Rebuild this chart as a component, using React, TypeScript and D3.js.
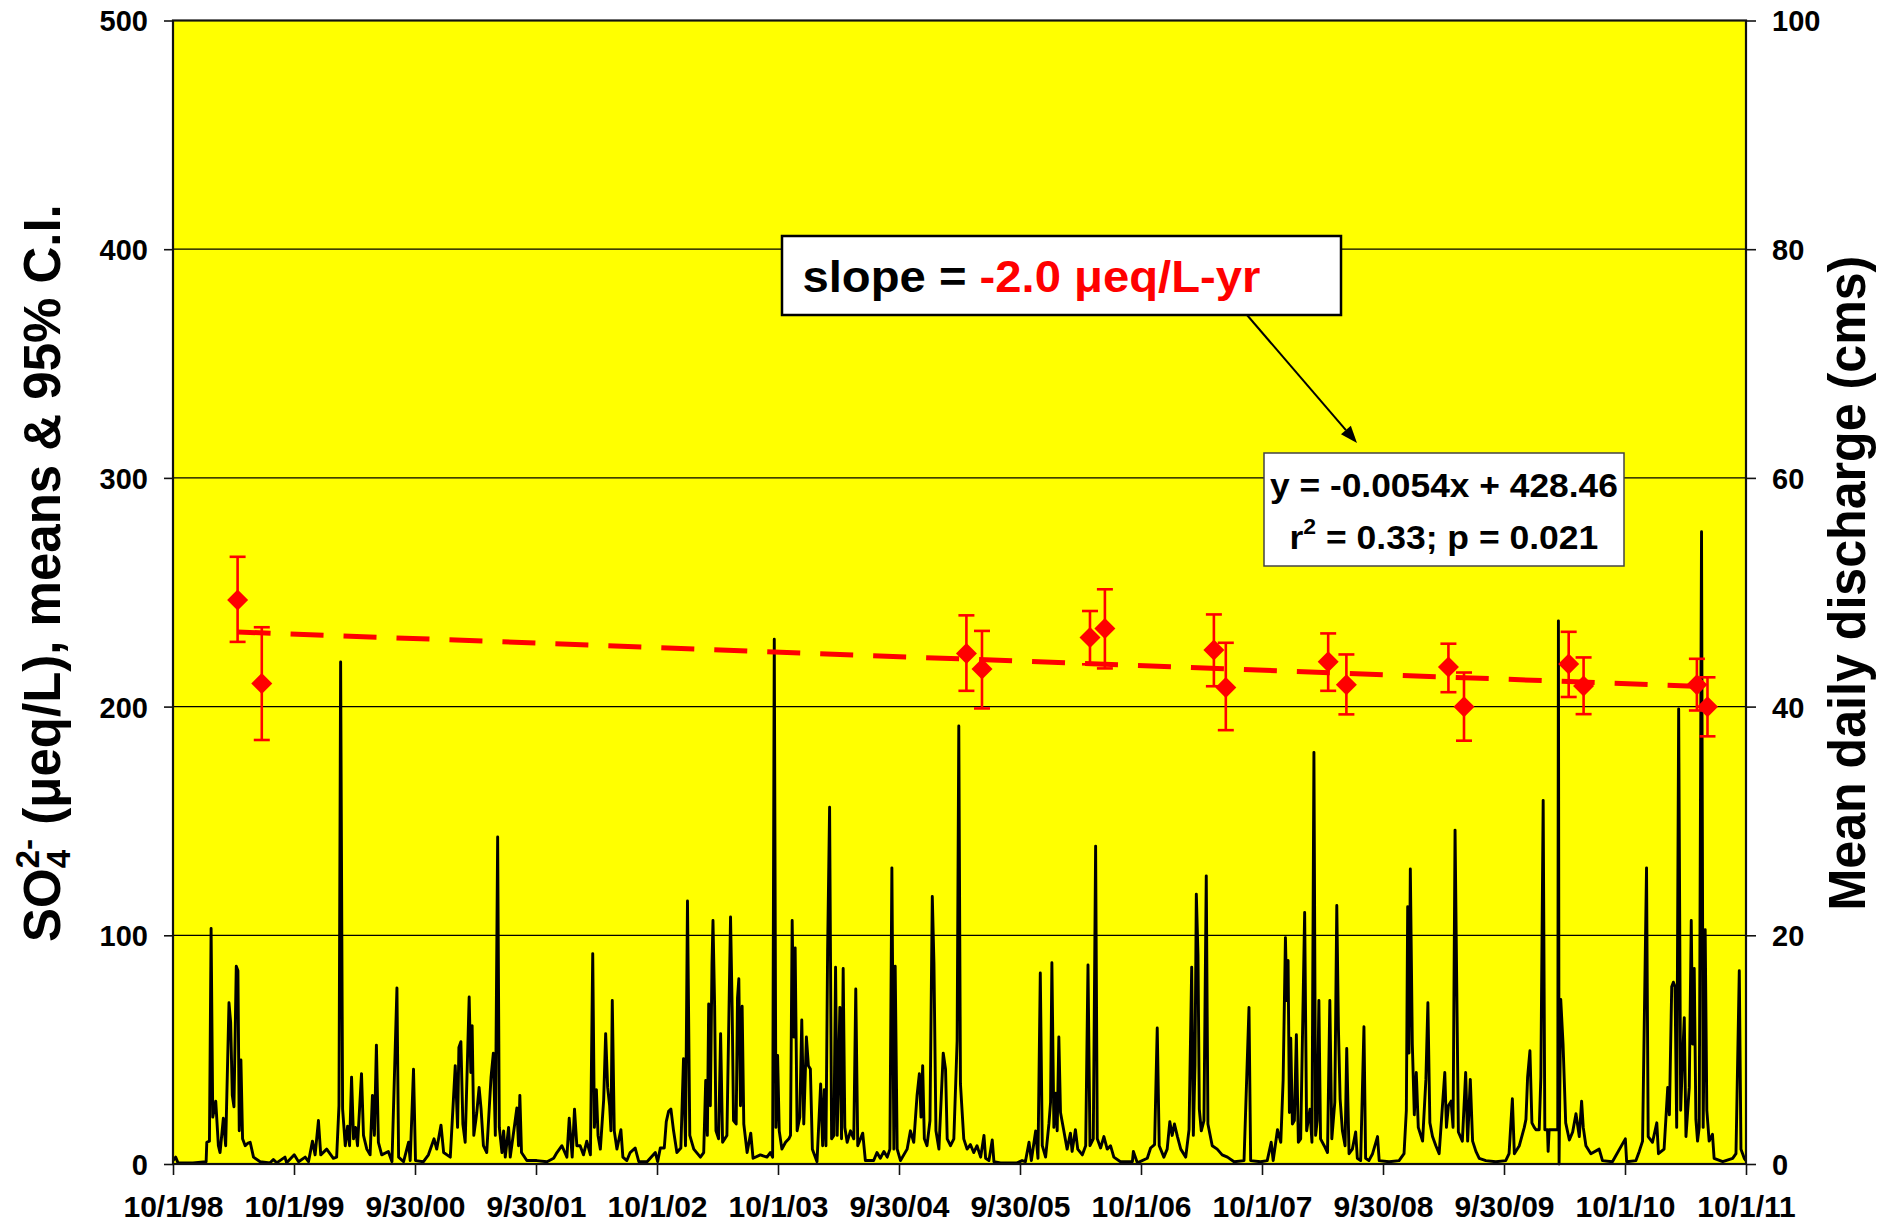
import React, { useEffect, useRef } from "react";
import * as d3 from "d3";

const WIDTH = 1881;
const HEIGHT = 1226;

// X axis: Excel date axis starting 10/1/98, major unit 365.25 days
const xTickLabels = [
  "10/1/98", "10/1/99", "9/30/00", "9/30/01", "10/1/02", "10/1/03", "9/30/04",
  "9/30/05", "10/1/06", "10/1/07", "9/30/08", "9/30/09", "10/1/10", "10/1/11",
];
const leftTicks = [0, 100, 200, 300, 400, 500];
const rightTicks = [0, 20, 40, 60, 80, 100];

// SO4 sample means & 95% C.I. (days since 10/1/98)
const sampleDay = [195, 268, 2395, 2442, 2768, 2813, 3142, 3178, 3487, 3542, 3850, 3897, 4213, 4258, 4600, 4632];
const sampleMean = [246.6, 210.1, 223.2, 216.4, 230.2, 234.2, 224.8, 208.4, 219.6, 209.6, 217.3, 199.9, 218.6, 209.0, 209.5, 199.9];
const sampleLow = [228.3, 185.4, 206.9, 199.2, 218.5, 216.7, 208.9, 189.7, 206.9, 196.6, 206.3, 185.1, 204.2, 196.7, 198.3, 187.0];
const sampleHigh = [265.5, 234.7, 239.9, 233.1, 241.8, 251.3, 240.3, 227.9, 232.0, 222.8, 227.5, 214.9, 232.7, 221.5, 220.9, 212.8];

// Regression: y = -0.0054x + 428.46 (x = Excel date serial)
const trendSlope = -0.0054;
const trendIntercept = 428.46;
const excelSerialStart = 36069; // 10/1/98

// Mean daily discharge (cms): [days since 10/1/98, cms]
const discharge: [number, number][] = [
  [0, 0.3], [8, 0.6], [15, 0.1], [60, 0.1], [100, 0.2], [102, 1.9], [110, 2.0], [115, 20.6], [120, 4.1], [129, 5.5],
  [137, 1.6], [142, 1.0], [152, 4.0], [159, 1.6], [169, 14.1], [174, 12.4], [179, 6.0], [184, 5.0], [191, 17.3], [196, 16.9],
  [200, 2.9], [205, 9.1], [210, 2.2], [218, 1.6], [225, 1.8], [233, 1.9], [243, 0.6], [263, 0.2], [293, 0.1], [303, 0.4],
  [313, 0.1], [338, 0.6], [343, 0.1], [366, 0.8], [379, 0.2], [399, 0.6], [409, 0.2], [421, 2.0], [429, 0.8], [439, 3.8],
  [446, 0.8], [464, 1.3], [484, 0.5], [494, 0.6], [501, 5.1], [506, 43.9], [512, 4.8], [520, 1.6], [527, 3.3], [533, 1.6],
  [539, 7.6], [545, 2.2], [551, 3.2], [557, 1.6], [569, 7.9], [575, 2.5], [585, 1.3], [595, 0.8], [602, 6.0], [608, 2.5],
  [614, 10.4], [620, 1.9], [630, 0.8], [650, 1.1], [661, 0.2], [676, 15.4], [681, 0.6], [696, 0.2], [711, 1.9], [716, 0.3],
  [726, 8.3], [732, 0.3], [756, 0.2], [771, 0.8], [788, 2.2], [796, 1.3], [809, 3.4], [817, 1.0], [837, 0.6], [852, 8.6],
  [859, 3.2], [863, 10.2], [869, 10.7], [875, 3.5], [882, 1.9], [894, 14.6], [899, 8.0], [903, 12.1], [908, 2.5], [914, 3.8],
  [917, 4.5], [924, 6.7], [930, 4.8], [937, 1.6], [947, 1.0], [960, 7.6], [967, 9.7], [973, 2.5], [980, 28.6], [985, 3.2],
  [993, 1.0], [998, 2.9], [1003, 0.6], [1013, 3.2], [1018, 0.6], [1038, 4.9], [1043, 1.6], [1047, 6.0], [1052, 1.0], [1068, 0.3],
  [1098, 0.3], [1129, 0.2], [1149, 0.5], [1159, 1.0], [1174, 1.6], [1189, 0.6], [1196, 4.0], [1205, 0.6], [1212, 4.8], [1219, 1.6],
  [1229, 1.6], [1239, 0.8], [1249, 2.0], [1260, 0.8], [1267, 18.4], [1272, 3.2], [1278, 6.5], [1283, 2.5], [1290, 1.3], [1300, 5.6],
  [1306, 11.4], [1312, 6.7], [1318, 5.1], [1322, 2.9], [1326, 14.3], [1332, 2.9], [1340, 1.3], [1352, 3.0], [1358, 0.6], [1370, 0.3],
  [1380, 1.0], [1395, 1.4], [1406, 0.2], [1431, 0.2], [1456, 1.0], [1463, 0.2], [1471, 1.4], [1483, 1.4], [1489, 3.7], [1496, 4.6],
  [1503, 4.8], [1511, 2.9], [1521, 1.0], [1533, 1.4], [1541, 9.2], [1547, 1.6], [1553, 23.0], [1560, 2.5], [1572, 1.3], [1592, 0.6],
  [1602, 1.0], [1608, 7.3], [1613, 2.5], [1617, 14.0], [1622, 5.1], [1627, 17.5], [1630, 21.3], [1635, 13.7], [1639, 2.9], [1647, 2.2],
  [1653, 11.4], [1659, 1.9], [1672, 2.5], [1683, 21.6], [1688, 13.4], [1692, 3.8], [1700, 3.5], [1704, 14.5], [1708, 16.2], [1713, 5.1],
  [1718, 13.8], [1723, 3.5], [1733, 1.0], [1744, 2.7], [1751, 0.5], [1773, 0.8], [1793, 0.6], [1803, 1.0], [1810, 0.6], [1815, 45.9],
  [1820, 3.2], [1825, 9.5], [1830, 2.9], [1838, 1.3], [1849, 1.9], [1859, 2.2], [1864, 2.5], [1869, 21.3], [1874, 11.1], [1878, 18.9],
  [1884, 2.9], [1892, 4.1], [1898, 12.6], [1904, 3.5], [1912, 11.1], [1918, 8.6], [1924, 8.3], [1930, 1.3], [1944, 0.2], [1955, 7.0],
  [1961, 1.6], [1966, 6.5], [1971, 1.6], [1976, 18.6], [1982, 31.2], [1988, 2.2], [1995, 2.5], [2000, 17.2], [2005, 2.5], [2013, 13.7],
  [2018, 2.2], [2023, 17.1], [2028, 3.2], [2035, 1.9], [2045, 2.9], [2055, 2.2], [2061, 15.3], [2067, 1.6], [2082, 2.7], [2090, 0.3],
  [2115, 0.3], [2125, 1.0], [2135, 0.5], [2146, 1.1], [2156, 0.6], [2164, 1.3], [2170, 25.9], [2176, 1.3], [2180, 17.3], [2186, 1.3],
  [2196, 0.3], [2216, 1.3], [2226, 2.9], [2236, 1.9], [2246, 6.0], [2253, 7.9], [2258, 4.1], [2263, 8.6], [2268, 2.2], [2276, 1.6],
  [2285, 3.8], [2292, 23.4], [2297, 17.5], [2303, 2.9], [2312, 1.3], [2325, 9.7], [2332, 8.3], [2337, 2.2], [2347, 1.6], [2357, 2.2],
  [2367, 10.8], [2372, 38.3], [2377, 7.0], [2387, 2.2], [2397, 1.3], [2407, 1.7], [2417, 1.0], [2427, 1.6], [2438, 0.6], [2448, 2.5],
  [2453, 0.5], [2463, 0.3], [2473, 2.1], [2478, 0.2], [2498, 0.1], [2548, 0.1], [2563, 0.3], [2573, 0.2], [2584, 1.9], [2591, 0.3],
  [2604, 2.9], [2611, 0.5], [2618, 16.7], [2624, 1.6], [2634, 0.6], [2644, 3.5], [2649, 5.4], [2653, 17.6], [2659, 3.2], [2665, 6.2],
  [2669, 2.9], [2674, 11.1], [2679, 4.5], [2689, 2.9], [2699, 1.3], [2709, 2.7], [2714, 1.1], [2724, 3.0], [2731, 1.3], [2745, 0.8],
  [2755, 1.6], [2762, 17.4], [2768, 1.6], [2778, 2.2], [2785, 27.8], [2790, 2.2], [2800, 1.4], [2810, 2.4], [2820, 1.3], [2830, 1.6],
  [2840, 0.6], [2860, 0.2], [2896, 0.2], [2899, 1.1], [2911, 0.1], [2941, 0.5], [2951, 1.4], [2963, 1.7], [2971, 11.9], [2977, 1.6],
  [2991, 0.6], [3001, 1.3], [3009, 3.7], [3016, 2.5], [3023, 3.5], [3032, 2.4], [3042, 1.3], [3057, 0.6], [3067, 3.0], [3075, 17.2],
  [3080, 2.5], [3085, 8.7], [3089, 23.6], [3094, 18.3], [3098, 4.8], [3104, 2.9], [3112, 3.8], [3119, 25.2], [3124, 3.5], [3137, 1.6],
  [3152, 1.3], [3167, 0.8], [3183, 0.6], [3203, 0.2], [3233, 0.3], [3248, 13.7], [3253, 0.3], [3283, 0.2], [3303, 0.3], [3315, 1.9],
  [3321, 0.3], [3334, 3.0], [3344, 1.9], [3351, 7.3], [3358, 19.8], [3362, 14.3], [3366, 17.8], [3370, 4.5], [3374, 11.0], [3379, 3.5],
  [3385, 3.8], [3391, 11.3], [3397, 1.9], [3404, 2.2], [3416, 22.0], [3422, 2.9], [3432, 4.8], [3438, 1.9], [3444, 36.0], [3449, 2.5],
  [3454, 3.8], [3459, 14.3], [3464, 2.2], [3475, 1.6], [3485, 1.0], [3492, 14.3], [3498, 2.2], [3507, 5.4], [3513, 22.6], [3518, 11.8],
  [3523, 5.7], [3530, 2.9], [3538, 1.6], [3543, 10.1], [3550, 0.9], [3560, 1.3], [3570, 2.8], [3575, 0.5], [3585, 0.3], [3595, 12.0],
  [3600, 0.5], [3610, 0.3], [3621, 0.9], [3636, 2.4], [3641, 0.3], [3671, 0.2], [3701, 0.3], [3716, 0.9], [3723, 4.7], [3727, 22.5],
  [3731, 9.7], [3735, 25.8], [3741, 10.5], [3747, 4.3], [3753, 8.0], [3759, 3.2], [3772, 2.0], [3782, 7.4], [3788, 14.1], [3794, 3.6],
  [3802, 2.4], [3812, 1.6], [3822, 0.9], [3832, 5.1], [3839, 8.0], [3844, 3.2], [3850, 5.1], [3858, 5.5], [3864, 3.2], [3870, 29.2],
  [3875, 15.9], [3880, 2.8], [3892, 2.0], [3902, 8.0], [3908, 2.0], [3916, 7.4], [3923, 2.0], [3933, 1.1], [3943, 0.5], [3963, 0.3],
  [3993, 0.2], [4023, 0.3], [4033, 0.9], [4043, 5.7], [4049, 0.9], [4064, 1.6], [4079, 3.2], [4084, 3.9], [4089, 7.6], [4096, 9.9],
  [4102, 3.6], [4109, 3.2], [4114, 3.0], [4124, 3.0], [4129, 7.6], [4136, 31.8], [4141, 3.0], [4149, 3.0], [4151, 1.1], [4154, 3.0],
  [4174, 3.0], [4180, 3.0], [4182, 47.5], [4184, 0.0], [4189, 14.4], [4196, 10.5], [4204, 3.6], [4215, 2.1], [4225, 2.8], [4235, 4.4],
  [4245, 2.4], [4252, 5.5], [4257, 3.2], [4265, 1.6], [4280, 0.9], [4305, 1.3], [4315, 0.3], [4345, 0.2], [4384, 2.2], [4388, 0.2],
  [4416, 0.3], [4426, 1.1], [4436, 2.0], [4448, 25.9], [4453, 2.4], [4466, 1.9], [4479, 3.6], [4484, 0.9], [4501, 1.3], [4512, 6.7],
  [4517, 4.3], [4524, 15.5], [4529, 15.9], [4534, 15.5], [4539, 3.2], [4545, 39.8], [4551, 4.7], [4557, 9.4], [4562, 12.8], [4567, 2.4],
  [4577, 6.7], [4583, 21.3], [4587, 10.5], [4592, 17.1], [4597, 3.9], [4602, 2.0], [4607, 3.2], [4614, 55.3], [4619, 3.2], [4625, 20.5],
  [4630, 4.7], [4637, 2.0], [4647, 2.6], [4652, 0.5], [4678, 0.2], [4708, 0.5], [4718, 0.9], [4728, 16.9], [4733, 1.3], [4743, 0.5],
  [4748, 0.3],
];

const FONT = "'Liberation Sans', Arial, Helvetica, sans-serif";

export default function App() {
  const ref = useRef<SVGSVGElement | null>(null);

  useEffect(() => {
    const svg = d3.select(ref.current);
    svg.selectAll("*").remove();

    const L = 173, R = 1746, T = 20.5, B = 1164;
    const x = d3.scaleLinear().domain([0, 13 * 365.25]).range([L, R]);
    const yL = d3.scaleLinear().domain([0, 500]).range([B, T]);
    const yR = d3.scaleLinear().domain([0, 100]).range([B, T]);

    svg.append("rect").attr("width", WIDTH).attr("height", HEIGHT).attr("fill", "#fff");
    svg.append("rect").attr("x", L).attr("y", T).attr("width", R - L).attr("height", B - T).attr("fill", "#ffff00");

    // gridlines
    svg.append("g").selectAll("line").data(leftTicks.filter((t) => t > 0 && t < 500)).join("line")
      .attr("x1", L).attr("x2", R).attr("y1", (d) => yL(d)).attr("y2", (d) => yL(d))
      .attr("stroke", "#000").attr("stroke-width", 1.2);

    // discharge line
    const line = d3.line<[number, number]>().x((d) => x(d[0])).y((d) => yR(d[1]));
    svg.append("path").attr("d", line(discharge) || "").attr("fill", "none")
      .attr("stroke", "#000").attr("stroke-width", 2.9).attr("stroke-linejoin", "round");

    // trend line
    const d0 = sampleDay[0], d1 = sampleDay[sampleDay.length - 1];
    const trend = (d: number) => trendSlope * (excelSerialStart + d) + trendIntercept;
    svg.append("line").attr("x1", x(d0)).attr("y1", yL(trend(d0))).attr("x2", x(d1)).attr("y2", yL(trend(d1)))
      .attr("stroke", "#ff0000").attr("stroke-width", 5).attr("stroke-dasharray", "33 20");

    // error bars
    const eb = svg.append("g").attr("stroke", "#ff0000").attr("stroke-width", 2.6).attr("fill", "none");
    sampleDay.forEach((d, i) => {
      const cx = x(d);
      eb.append("line").attr("x1", cx).attr("x2", cx).attr("y1", yL(sampleLow[i])).attr("y2", yL(sampleHigh[i]));
      eb.append("line").attr("x1", cx - 8).attr("x2", cx + 8).attr("y1", yL(sampleLow[i])).attr("y2", yL(sampleLow[i]));
      eb.append("line").attr("x1", cx - 8).attr("x2", cx + 8).attr("y1", yL(sampleHigh[i])).attr("y2", yL(sampleHigh[i]));
    });
    svg.append("g").selectAll("path").data(sampleDay).join("path")
      .attr("d", "M0,-10.5L10.5,0L0,10.5L-10.5,0Z")
      .attr("transform", (d, i) => `translate(${x(d)},${yL(sampleMean[i])})`)
      .attr("fill", "#ff0000");

    // frame
    svg.append("rect").attr("x", L).attr("y", T).attr("width", R - L).attr("height", B - T)
      .attr("fill", "none").attr("stroke", "#111").attr("stroke-width", 2.2);

    // axes
    const styleAxis = (g: any, size: number) => {
      g.select(".domain").remove();
      g.selectAll(".tick line").attr("stroke", "#111").attr("stroke-width", 1.6);
      g.selectAll(".tick text").attr("font-family", FONT).attr("font-weight", "bold")
        .attr("font-size", size).attr("fill", "#000");
    };
    const gl = svg.append("g").attr("transform", `translate(${L},0)`)
      .call(d3.axisLeft(yL).tickValues(leftTicks).tickSize(9).tickPadding(16).tickFormat(d3.format("d")));
    styleAxis(gl, 29);
    gl.selectAll(".tick text").attr("dy", "0.36em");
    const gr = svg.append("g").attr("transform", `translate(${R},0)`)
      .call(d3.axisRight(yR).tickValues(rightTicks).tickSize(10).tickPadding(16).tickFormat(d3.format("d")));
    styleAxis(gr, 29);
    gr.selectAll(".tick text").attr("dy", "0.36em");
    const xTicks = d3.range(xTickLabels.length).map((k) => k * 365.25);
    const gb = svg.append("g").attr("transform", `translate(0,${B})`)
      .call(d3.axisBottom(x).tickValues(xTicks).tickSize(11).tickPadding(21).tickFormat((d, i) => xTickLabels[i]));
    styleAxis(gb, 30);

    // helper to fit text to a target length along its direction
    const fit = (t: any, target: number, tx: number, ty: number, rot: number, anchor: "start" | "middle") => {
      const bb = (t.node() as SVGTextElement).getBBox();
      const s = target / bb.width;
      const shift = anchor === "middle" ? -(bb.x + bb.width / 2) : -bb.x;
      t.attr("transform", `translate(${tx},${ty}) rotate(${rot}) scale(${s},1) translate(${shift},0)`);
    };

    // left title
    const lt = svg.append("text").attr("font-family", FONT).attr("font-weight", "bold")
      .attr("font-size", 52).attr("fill", "#000");
    lt.append("tspan").text("SO");
    lt.append("tspan").attr("font-size", 34).attr("dy", 10).text("4");
    lt.append("tspan").attr("font-size", 34).attr("dx", -19).attr("dy", -31).text("2-");
    lt.append("tspan").attr("dy", 21).text(" (\u03bceq/L), means & 95% C.I.");
    fit(lt, 738, 60, 573, -90, "middle");

    // right title
    const rt = svg.append("text").attr("font-family", FONT).attr("font-weight", "bold")
      .attr("font-size", 51).attr("fill", "#000").text("Mean daily discharge (cms)");
    fit(rt, 655, 1865, 583, -90, "middle");

    // slope box
    svg.append("rect").attr("x", 782).attr("y", 236).attr("width", 559).attr("height", 79)
      .attr("fill", "#fff").attr("stroke", "#000").attr("stroke-width", 2.5);
    const st = svg.append("text").attr("font-family", FONT).attr("font-weight", "bold").attr("font-size", 44);
    st.append("tspan").attr("fill", "#000").text("slope = ");
    st.append("tspan").attr("fill", "#ff0000").text("-2.0 \u03bceq/L-yr");
    fit(st, 458, 802.5, 292, 0, "start");

    // arrow
    const ax0 = 1247, ay0 = 315, ax1 = 1357, ay1 = 443;
    const ang = Math.atan2(ay1 - ay0, ax1 - ax0);
    const hl = 17, hw = 6.5;
    const bx = ax1 - hl * Math.cos(ang), by = ay1 - hl * Math.sin(ang);
    svg.append("line").attr("x1", ax0).attr("y1", ay0).attr("x2", bx).attr("y2", by)
      .attr("stroke", "#000").attr("stroke-width", 2);
    svg.append("path").attr("fill", "#000").attr("d",
      `M${ax1},${ay1}L${bx + hw * Math.sin(ang)},${by - hw * Math.cos(ang)}L${bx - hw * Math.sin(ang)},${by + hw * Math.cos(ang)}Z`);

    // equation box
    svg.append("rect").attr("x", 1264).attr("y", 453).attr("width", 360).attr("height", 113)
      .attr("fill", "#fff").attr("stroke", "#444").attr("stroke-width", 1.5);
    const e1 = svg.append("text").attr("font-family", FONT).attr("font-weight", "bold").attr("font-size", 34)
      .attr("fill", "#000").text("y = -0.0054x + 428.46");
    fit(e1, 348, 1444, 497, 0, "middle");
    const e2 = svg.append("text").attr("font-family", FONT).attr("font-weight", "bold").attr("font-size", 34).attr("fill", "#000");
    e2.append("tspan").text("r");
    e2.append("tspan").attr("font-size", 22).attr("dy", -15).text("2");
    e2.append("tspan").attr("dy", 15).text(" = 0.33; p = 0.021");
    fit(e2, 309, 1444, 549, 0, "middle");
  }, []);

  return (
    <svg
      ref={ref}
      width={WIDTH}
      height={HEIGHT}
      style={{ position: "absolute", left: 0, top: 0, display: "block" }}
    />
  );
}
